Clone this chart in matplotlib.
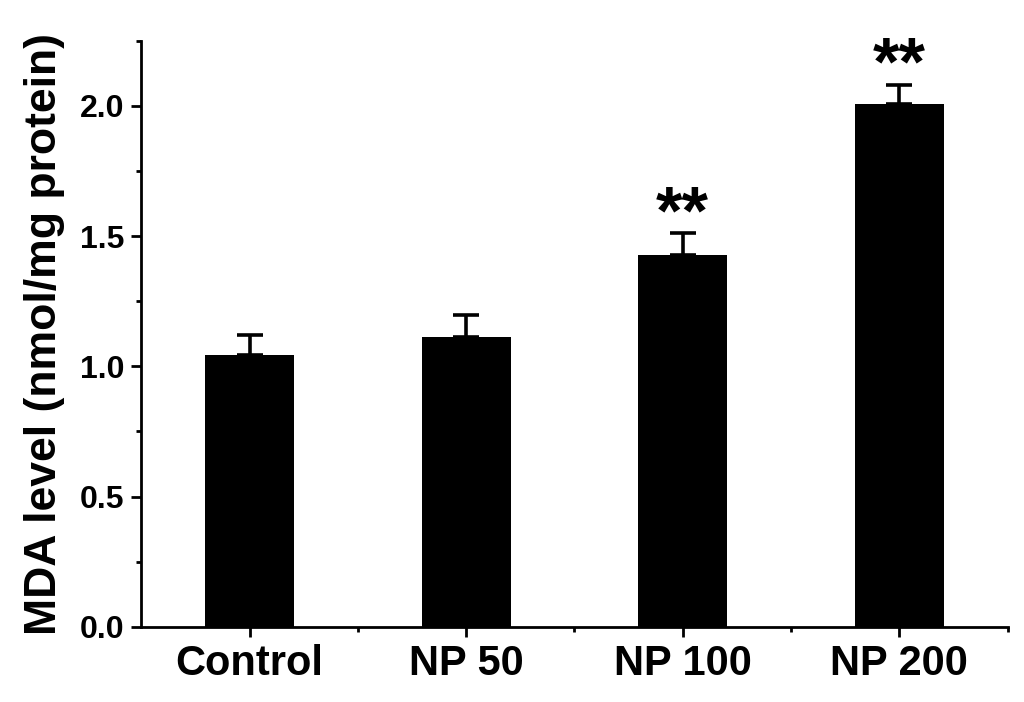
import numpy as np
import matplotlib
matplotlib.use("Agg")
import matplotlib.pyplot as plt
from matplotlib.ticker import MultipleLocator

groups = ["Control", "NP 50", "NP 100", "NP 200"]
mda = [1.042, 1.112, 1.427, 2.008]
sd = [0.077, 0.084, 0.085, 0.073]
stars = ["", "", "**", "**"]

plt.rcParams["font.family"] = ["Liberation Sans", "DejaVu Sans"]
plt.rcParams["font.weight"] = "bold"

fig = plt.figure(figsize=(10.24, 7.02), dpi=100)
ax = fig.add_axes([0.138, 0.107, 0.846, 0.835])

x = np.arange(1, len(groups) + 1)
ax.bar(x, mda, width=0.41, color="black", zorder=2)
ax.errorbar(x, mda, yerr=[np.zeros(len(sd)), sd], fmt="none", ecolor="black",
            elinewidth=2.6, capsize=9.7, capthick=2.6, zorder=1)

for xi, m, s, st in zip(x, mda, sd, stars):
    if st:
        ax.text(xi, m + s, st, ha="center", va="baseline",
                fontsize=49, fontweight="bold")

ax.set_xlim(0.5, 4.5)
ax.set_ylim(0, 2.25)
ax.set_xticks(x)
ax.set_xticklabels(groups, fontsize=30, fontweight="bold")
ax.set_xticks([1.5, 2.5, 3.5, 4.5], minor=True)
ax.yaxis.set_major_locator(MultipleLocator(0.5))
ax.yaxis.set_minor_locator(MultipleLocator(0.25))
ax.set_yticklabels([f"{v:.1f}" for v in ax.get_yticks()], fontsize=23, fontweight="bold")

ax.set_ylabel("MDA level (nmol/mg protein)", fontsize=32, fontweight="bold")
ax.yaxis.set_label_coords(-0.088, 0.5)

for side in ["top", "right"]:
    ax.spines[side].set_visible(False)
for side in ["left", "bottom"]:
    ax.spines[side].set_linewidth(2)
ax.tick_params(which="major", direction="out", length=7, width=2, pad=5)
ax.tick_params(which="minor", direction="out", length=3.5, width=2)

fig.savefig("out.png", dpi=100)
